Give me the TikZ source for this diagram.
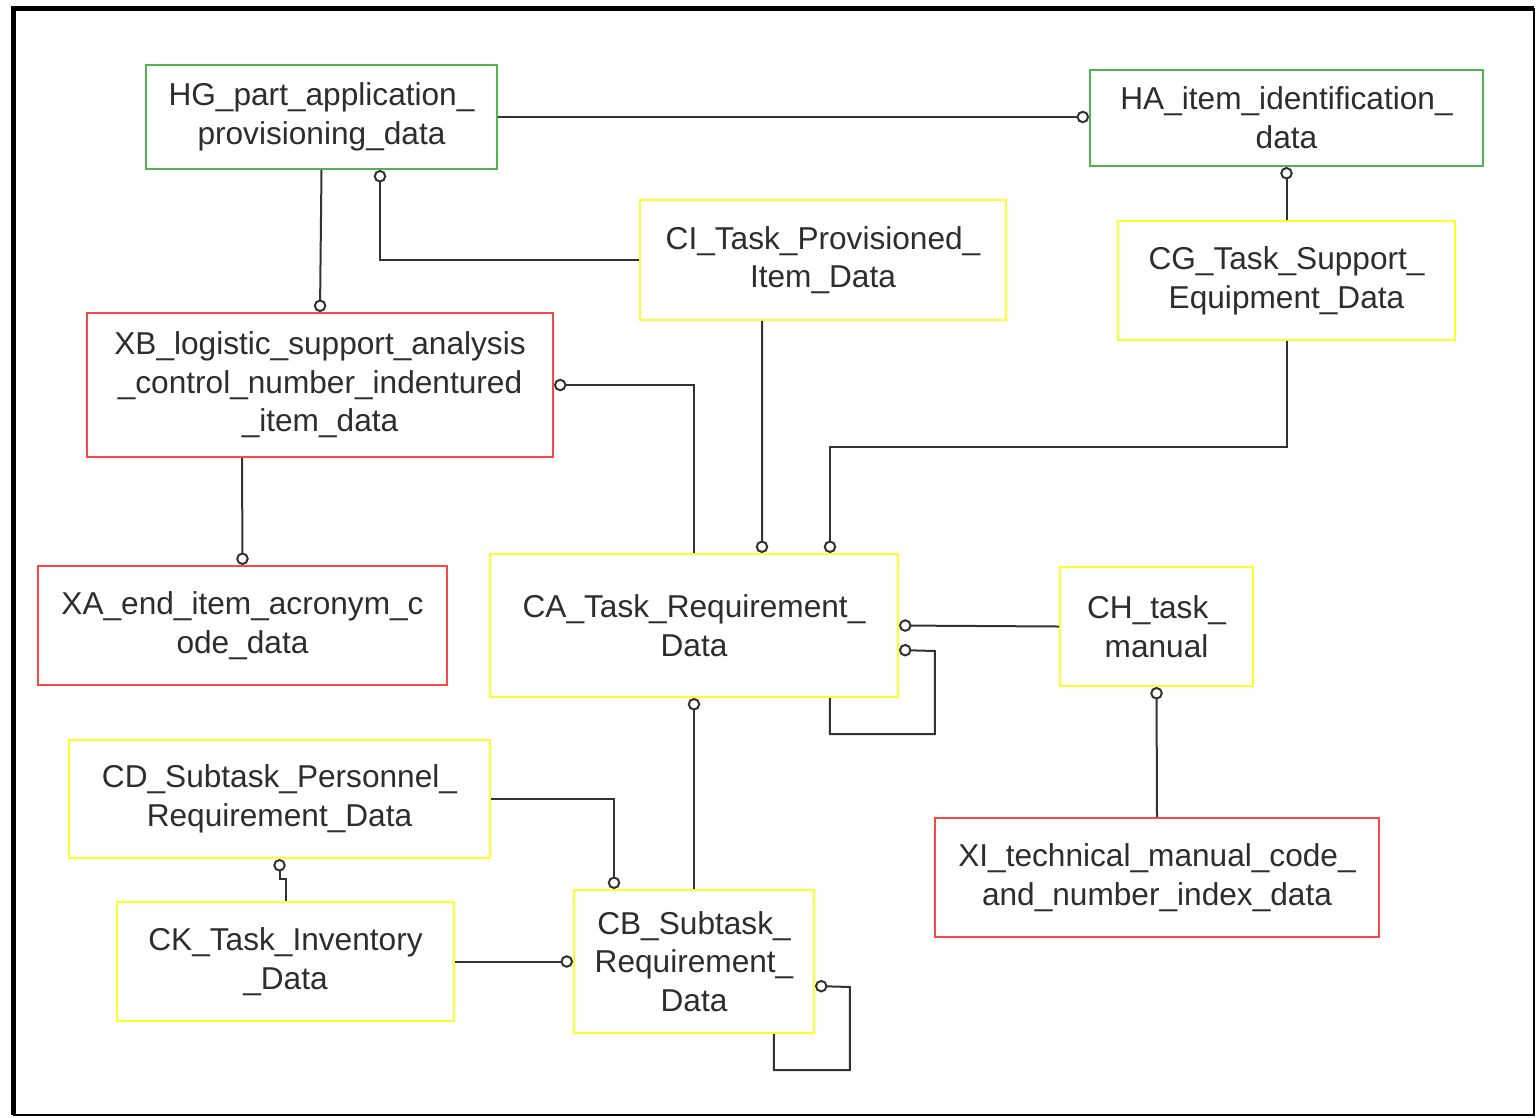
\documentclass[tikz,border=0pt]{standalone}
\usepackage{fontspec}
\setmainfont{Liberation Sans}
\usepackage{xcolor}
\usepackage{tikz}
\usetikzlibrary{arrows.meta}

\definecolor{entgreen}{RGB}{80,180,80}
\definecolor{entred}{RGB}{255,70,70}
\definecolor{entyellow}{RGB}{255,255,40}
\definecolor{linkgray}{RGB}{50,50,50}
\definecolor{textgray}{RGB}{45,45,45}

\begin{document}
\begin{tikzpicture}[x=0.02cm, y=-0.02cm,
        entity/.style={draw, line width=0.04cm, align=center, inner sep=0pt,
            text=textgray, font=\fontsize{18}{22}\selectfont},
        link/.style={draw=linkgray, line width=0.04cm,
            -{Circle[open, length=2.5mm, width=2.5mm]}}]
        \useasboundingbox (0,0) rectangle (1537,1117);

        % frame
        \draw[line width=0.04cm] (13.5,8.5) rectangle (1534,1115);
        \draw[line width=0.11cm] (1534,8.5) -- (13.5,8.5) -- (13.5,1115);

        \node[entity, draw=entgreen, minimum width=7.02cm, minimum height=2.08cm] (HG) at (321.5,117) {HG\_part\_application\_\\provisioning\_data};
        \node[entity, draw=entgreen, minimum width=7.86cm, minimum height=1.92cm] (HA) at (1286.5,118) {HA\_item\_identification\_\\data};
        \node[entity, draw=entyellow, minimum width=7.32cm, minimum height=2.4cm] (CI) at (823,260) {CI\_Task\_Provisioned\_\\Item\_Data};
        \node[entity, draw=entyellow, minimum width=6.74cm, minimum height=2.38cm] (CG) at (1286.5,280.5) {CG\_Task\_Support\_\\Equipment\_Data};
        \node[entity, draw=entred, minimum width=9.32cm, minimum height=2.88cm] (XB) at (320,385) {XB\_logistic\_support\_analysis\\\_control\_number\_indentured\\\_item\_data};
        \node[entity, draw=entred, minimum width=8.18cm, minimum height=2.38cm] (XA) at (242.5,625.5) {XA\_end\_item\_acronym\_c\\ode\_data};
        \node[entity, draw=entyellow, minimum width=8.16cm, minimum height=2.86cm] (CA) at (694,625.5) {CA\_Task\_Requirement\_\\Data};
        \node[entity, draw=entyellow, minimum width=3.86cm, minimum height=2.38cm] (CH) at (1156.5,626.5) {CH\_task\_\\manual};
        \node[entity, draw=entyellow, minimum width=8.42cm, minimum height=2.36cm] (CD) at (279.5,799) {CD\_Subtask\_Personnel\_\\Requirement\_Data};
        \node[entity, draw=entyellow, minimum width=6.74cm, minimum height=2.38cm] (CK) at (285.5,961.5) {CK\_Task\_Inventory\\\_Data};
        \node[entity, draw=entyellow, minimum width=4.8cm, minimum height=2.86cm] (CB) at (694,961.5) {CB\_Subtask\_\\Requirement\_\\Data};
        \node[entity, draw=entred, minimum width=8.88cm, minimum height=2.38cm] (XI) at (1157,877.5) {XI\_technical\_manual\_code\_\\and\_number\_index\_data};

        % HG -> HA
        \draw[link] (HG.east) -- (HG.east -| HA.west);
        % HG -> XB
        \draw[link] (HG.south) -- (XB.north);
        % CI -> HG
        \draw[link] (CI.west) -| ([xshift=1.17cm]HG.south);
        % CG -> HA
        \draw[link] (CG.north) -- (HA.south);

        % CA -> XB
        \draw[link] (CA.north) |- (XB.east);
        % CI -> CA
        \draw[link] ([xshift=-1.22cm]CI.south) -- ([xshift=1.36cm]CA.north);
        % CG -> CA
        \draw[link] (CG.south) -- ++(0,106) -| ([xshift=2.72cm]CA.north);
        % XB -> XA
        \draw[link] ([xshift=-1.56cm]XB.south) -- (XA.north);

        % CH -> CA, CA -> CA
        \draw[link] (CH.west) -- (CA.east);
        \draw[link] ([xshift=2.72cm]CA.south) -- ++(0,36) -| ++(105,-83) -- ([yshift=-0.49cm]CA.east);
        % XI -> CH
        \draw[link] (XI.north) -- (CH.south);

        % CB -> CA
        \draw[link] (CB.north) -- (CA.south);
        % CD -> CB
        \draw[link] (CD.east) -| ([xshift=-1.6cm]CB.north);
        % CK -> CD
        \draw[link] (CK.north) -- ++(0,-22) -| (CD.south);
        % CK -> CB, CB -> CB
        \draw[link] (CK.east) -- (CB.west);
        \draw[link] ([xshift=1.6cm]CB.south) -- ++(0,36) -| ++(76,-83) -- ([yshift=-0.49cm]CB.east);
    \end{tikzpicture}
\end{document}
